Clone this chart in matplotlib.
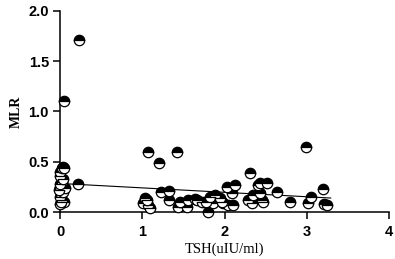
import matplotlib.pyplot as plt

# TSH (uIU/ml) vs MLR
tsh = [0.05, 0.23, 0.22,
       0.04, 0.00, 0.02, 0.05, 0.00, 0.02, 0.00, 0.03, 0.01, 0.00, 0.02, 0.05, 0.00, 0.03, 0.06, 0.00, 0.04, -0.01, 0.01,
       1.07, 1.42, 1.20, 1.23, 1.32, 1.33, 1.03, 1.01, 1.07, 1.06, 1.09,
       1.43, 1.54, 1.46, 1.56, 1.64,
       1.80, 1.76, 1.86, 1.88, 1.82, 1.95, 1.98, 2.04, 2.10, 2.03, 2.13, 2.09, 1.67, 1.72, 1.78, 1.97,
       2.31, 2.29, 2.33, 2.35, 2.41, 2.46, 2.43, 2.51, 2.47, 2.43,
       2.99, 2.64, 2.79, 3.02, 3.05, 3.20, 3.21, 3.24]
mlr = [1.10, 1.71, 0.28,
       0.45, 0.40, 0.44, 0.44, 0.36, 0.30, 0.25, 0.22, 0.18, 0.15, 0.12, 0.10, 0.08, 0.20, 0.24, 0.28, 0.33, 0.22, 0.10,
       0.60, 0.60, 0.49, 0.20, 0.21, 0.12, 0.14, 0.09, 0.07, 0.12, 0.04,
       0.05, 0.05, 0.10, 0.12, 0.13,
       0.00, 0.10, 0.09, 0.17, 0.15, 0.14, 0.09, 0.07, 0.07, 0.25, 0.27, 0.19, 0.12, 0.10, 0.10, 0.10,
       0.39, 0.12, 0.09, 0.17, 0.27, 0.12, 0.29, 0.29, 0.10, 0.19,
       0.65, 0.20, 0.10, 0.09, 0.15, 0.23, 0.08, 0.07]

fit_x = [0.0, 3.29]
fit_y = [0.285, 0.14]

x_ticks = [0, 1, 2, 3, 4]
y_ticks = [0.0, 0.5, 1.0, 1.5, 2.0]

fig = plt.figure(figsize=(3.95, 2.59), dpi=100)
ax = fig.add_axes([0.152, 0.181, 0.833, 0.777])

ax.plot(tsh, mlr, linestyle='none', marker='o', markersize=7.5,
        fillstyle='top', markerfacecolor='black', markerfacecoloralt='white',
        markeredgecolor='black', markeredgewidth=0.9, clip_on=False, zorder=3)
ax.plot(fit_x, fit_y, color='black', linewidth=0.8, zorder=2)

ax.set_xlim(0, 4)
ax.set_ylim(0, 2)
ax.set_xticks(x_ticks)
ax.set_yticks(y_ticks)
ax.set_xticklabels([str(t) for t in x_ticks])
ax.set_yticklabels([f"{t:.1f}" for t in y_ticks])

for s in ['top', 'right']:
    ax.spines[s].set_visible(False)
for s in ['left', 'bottom']:
    ax.spines[s].set_linewidth(1.1)

ax.tick_params(direction='out', length=5, width=1.1, pad=3)
ax.tick_params(axis='x', pad=4)
for lab in ax.get_xticklabels() + ax.get_yticklabels():
    lab.set_fontfamily('Liberation Sans')
    lab.set_fontweight('bold')
    lab.set_fontsize(10.5)

ax.set_xlabel('TSH(uIU/ml)', family='Liberation Serif', fontsize=10.5, labelpad=3)
ax.set_ylabel('MLR', family='Liberation Serif', fontsize=10, fontweight='bold', labelpad=4)

fig.savefig('out.png', dpi=100)
